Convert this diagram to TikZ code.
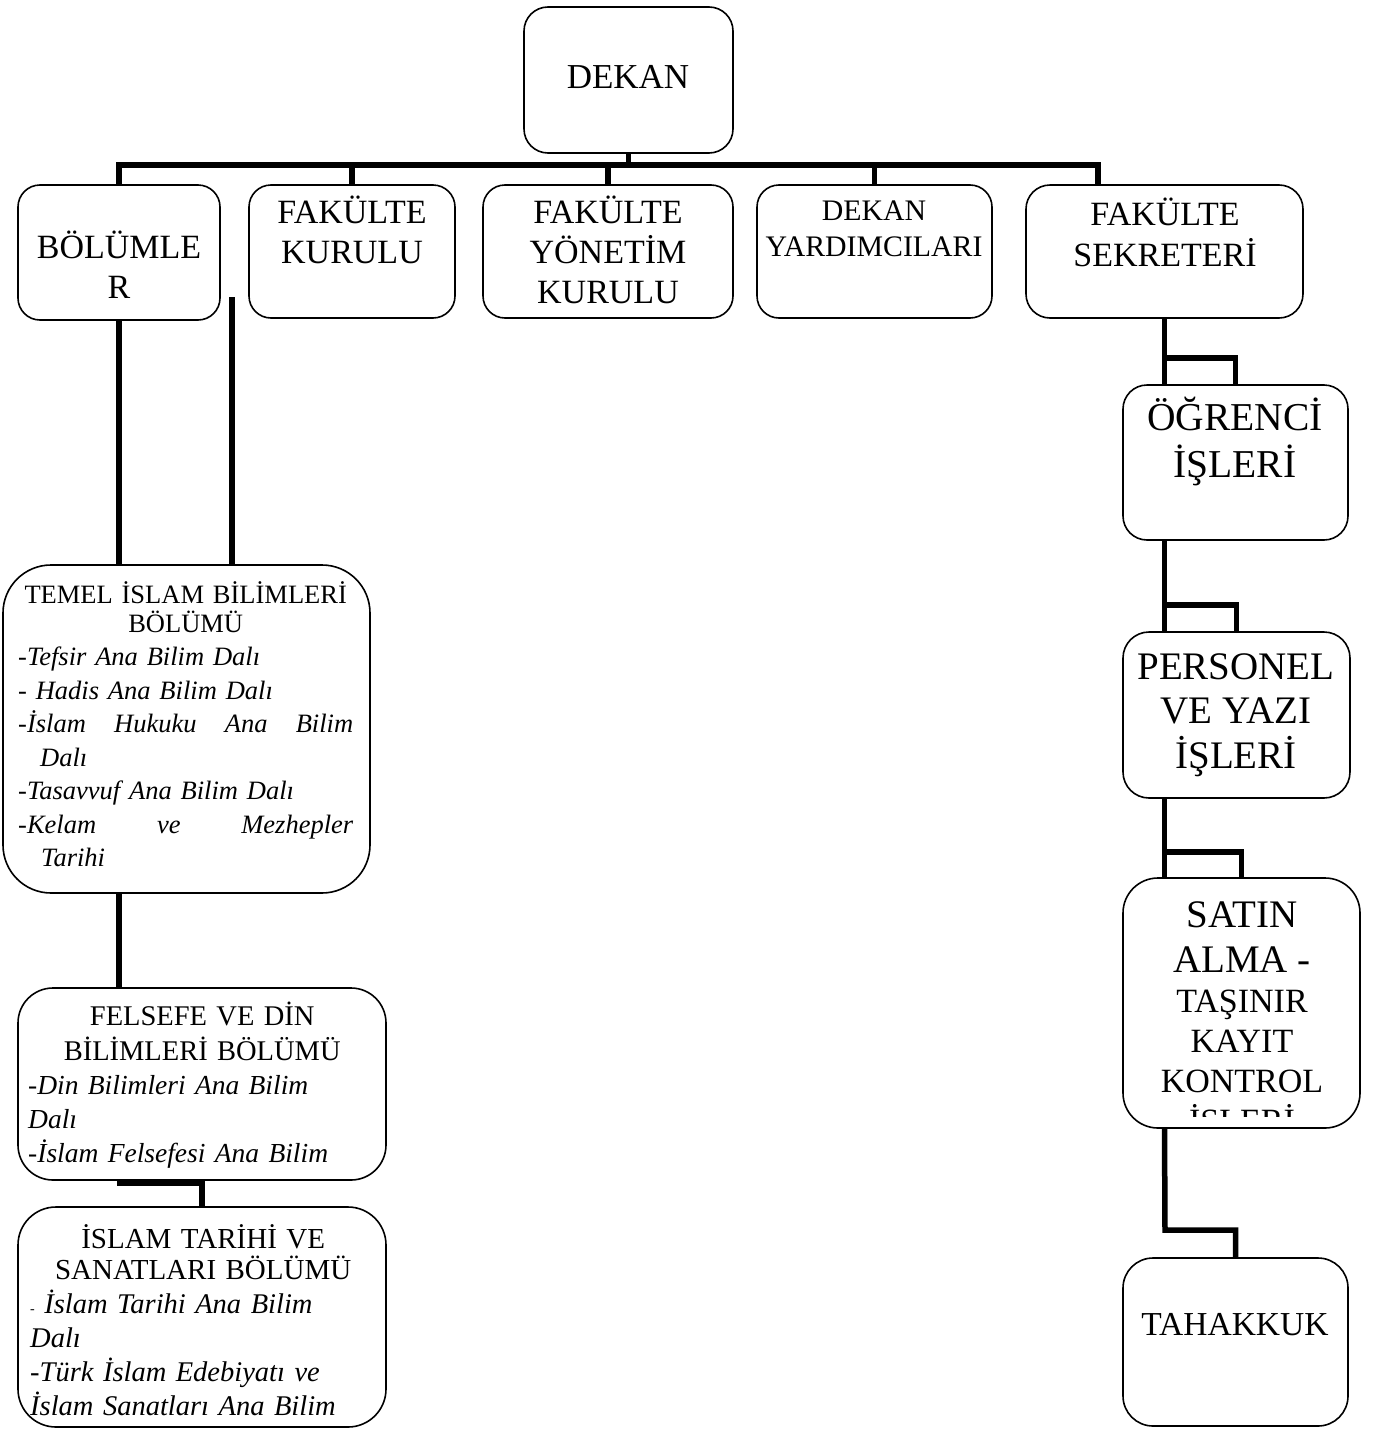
\documentclass[tikz,border=0pt]{standalone}
\usepackage{fontspec}
\setmainfont{Liberation Serif}
\usetikzlibrary{backgrounds}
\hbadness=10000
\newcommand\orgbox[6]{%
  \node[box=#6, minimum width={(#4-#2)*1pt}, minimum height={(#5-#3)*1pt}] (#1) at ({(#2+#4)/2},{(#3+#5)/2}) {};}
\newcommand\fs[2]{\fontsize{#1}{#2}\selectfont}
\newcommand\justifyon{\leftskip=0pt\rightskip=0pt\parfillskip=0pt plus 1fil
  \spaceskip=0.3333em plus 0.4em minus 0.1em\xspaceskip=0.5em plus 0.4em\relax}
\begin{document}
\begin{tikzpicture}[x=1pt,y=-1pt,
  box/.style={draw, line width=1.6pt, rounded corners=#1, inner sep=0pt, fill=white},
  box/.default=24pt,
  conn/.style={line width=5.5pt, line join=miter, line cap=butt},
  lbl/.style={inner sep=0pt, align=center, anchor=base},
  para/.style={inner sep=0pt, anchor=base west, text width=#1, align=left}
]
\useasboundingbox (0,0) rectangle (1374,1432);

% boxes
\orgbox{dekan}{524}{7}{733}{153}{24pt}
\orgbox{bolumler}{18}{185}{220}{320}{22pt}
\orgbox{kurulu}{249}{185}{455}{318}{22pt}
\orgbox{yonetim}{483}{185}{733}{318}{22pt}
\orgbox{yard}{757}{185}{992}{318}{22pt}
\orgbox{sekreter}{1026}{185}{1303}{318}{24pt}
\orgbox{temel}{3}{565}{370}{893}{48pt}
\orgbox{felsefe}{18}{988}{386}{1180}{35pt}
\orgbox{islam}{18}{1207}{386}{1427}{38pt}
\orgbox{ogrenci}{1123}{385}{1348}{540}{24pt}
\orgbox{personel}{1123}{632}{1350}{798}{26pt}
\orgbox{satin}{1123}{878}{1360}{1128}{35pt}
\orgbox{tahakkuk}{1123}{1258}{1348}{1426}{30pt}

% texts (multi-line centred nodes: base = last line's baseline)
\node[lbl, font=\fs{35}{40}] (t-dekan) at (628,88) {DEKAN};
\node[lbl, font=\fs{34}{40}] (t-bolumler) at (119,298) {BÖLÜMLE\\R};
\node[lbl, font=\fs{34}{40}] (t-kurulu) at (352,263) {FAKÜLTE\\KURULU};
\node[lbl, font=\fs{34}{40}] (t-yonetim) at (608,303) {FAKÜLTE\\YÖNETİM\\KURULU};
\node[lbl, font=\fs{29.8}{36}] (t-yard) at (874,256) {DEKAN\\YARDIMCILARI};
\node[lbl, font=\fs{34}{41}] (t-sekreter) at (1165,266) {FAKÜLTE\\SEKRETERİ};
\node[lbl, font=\fs{39.5}{47}] (t-ogrenci) at (1235,477) {ÖĞRENCİ\\İŞLERİ};
\node[lbl, font=\fs{39}{44.5}] (t-personel) at (1236,768) {PERSONEL\\VE YAZI\\İŞLERİ};
\node[lbl, font=\fs{39}{45}] (t-satin1) at (1242,972) {SATIN\\ALMA -};
\begin{scope}
  \clip (1123,878) rectangle (1360,1116);
  \node[lbl, font=\fs{34}{40}] (t-satin2) at (1242,1132) {TAŞINIR\\KAYIT\\KONTROL\\İŞLERİ};
\end{scope}
\node[lbl, font=\fs{33.5}{40}] (t-tahakkuk) at (1235,1335) {TAHAKKUK};

\node[para=335pt, font=\fs{26.5}{33.5}] (t-temel) at (18,603) {%
  \fs{26.5}{29}{\centering TEMEL İSLAM BİLİMLERİ\\BÖLÜMÜ\par}%
  \fs{26.5}{33.5}\itshape\justifyon
  -Tefsir Ana Bilim Dalı\par
  - Hadis Ana Bilim Dalı\par
  {\hangindent=22pt \hangafter=1 -İslam Hukuku Ana Bilim\linebreak Dalı\par}
  -Tasavvuf Ana Bilim Dalı\par
  {\hangindent=23pt \hangafter=1 -Kelam ve Mezhepler\linebreak Tarihi\par}};

\node[para=348pt, font=\fs{28}{34}] (t-felsefe) at (28,1025) {%
  \fs{28.5}{35}{\centering FELSEFE VE DİN\\BİLİMLERİ BÖLÜMÜ\par}%
  \fs{27.5}{34}\itshape
  -Din Bilimleri Ana Bilim\\
  Dalı\\
  -İslam Felsefesi Ana Bilim\par};

\node[para=346pt, font=\fs{28.5}{34}] (t-islam) at (30,1248) {%
  \fs{29}{31}{\centering İSLAM TARİHİ VE\\SANATLARI BÖLÜMÜ\par}%
  \fs{28.5}{34}\itshape
  {\fs{14}{14}\upshape -} İslam Tarihi Ana Bilim\\
  Dalı\\
  -Türk İslam Edebiyatı ve\\
  İslam Sanatları Ana Bilim\par};

% connectors
\begin{pgfonlayer}{background}
  \fill[white] (0,0) rectangle (1374,1432);
  \coordinate (bus) at (628,165);
  \coordinate (sekjoin) at (1098,165);
  \draw[conn] (dekan.south) -- (dekan.south |- bus);
  \draw[conn] (bolumler.north) -- (bolumler.north |- bus) -- (sekjoin) -- (sekjoin |- sekreter.north);
  \draw[conn] (kurulu.north) -- (kurulu.north |- bus);
  \draw[conn] (yonetim.north) -- (yonetim.north |- bus);
  \draw[conn] (yard.north) -- (yard.north |- bus);

  \coordinate (bolfree) at (232,297);
  \draw[conn] (bolumler.south) -- (bolumler.south |- temel.north);
  \draw[conn] (bolfree) -- (bolfree |- temel.north);
  \draw[conn] (bolumler.south |- temel.south) -- (bolumler.south |- felsefe.north);
  \coordinate (felj) at (117,1183);
  \draw[conn] (felj) -| (islam.north);

  \coordinate (j1) at (1165,358);
  \coordinate (j2) at (1165,605);
  \coordinate (j3) at (1165,852);
  \coordinate (j4) at (1165,1230);
  \draw[conn] (sekreter.south) -- (sekreter.south |- ogrenci.north);
  \draw[conn] (j1) -| (ogrenci.north);
  \draw[conn] (sekreter.south |- ogrenci.south) -- (sekreter.south |- personel.north);
  \draw[conn] (j2) -| (personel.north);
  \draw[conn] (sekreter.south |- personel.south) -- (sekreter.south |- satin.north);
  \draw[conn] (j3) -| (satin.north);
  \draw[conn] (sekreter.south |- satin.south) -- (j4) -| (tahakkuk.north);
\end{pgfonlayer}
\end{tikzpicture}
\end{document}
